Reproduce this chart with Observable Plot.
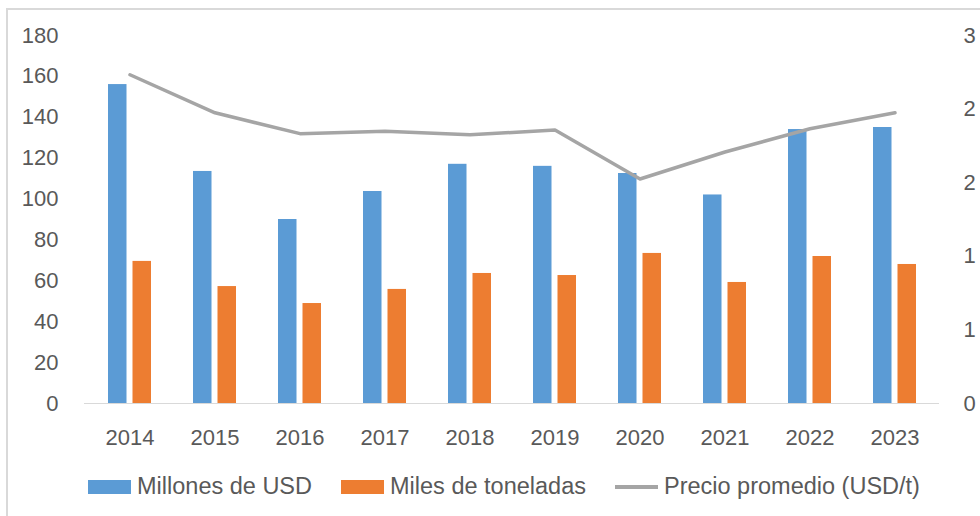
<!DOCTYPE html>
<html><head><meta charset="utf-8">
<script src="https://cdn.jsdelivr.net/npm/d3@7"></script>
<script src="https://cdn.jsdelivr.net/npm/@observablehq/plot@0.6"></script>
<style>
body{margin:0;background:#fff;width:980px;height:516px;overflow:hidden;position:relative;font-family:"Liberation Sans",Arial,sans-serif;}
#chart{position:absolute;left:0;top:0;}
#frame{position:absolute;left:6px;top:8px;right:-10px;bottom:-10px;border-left:2px solid #d9d9d9;border-top:2px solid #d9d9d9;pointer-events:none;}
#legend{position:absolute;left:88px;top:473px;display:flex;align-items:center;gap:29px;font-size:23.5px;color:#595959;white-space:nowrap}
.item{display:flex;align-items:center;gap:6px}
.sw{width:43px;height:14px}
.ln{width:43px;height:4px}
</style></head><body>
<div id="chart"></div><div id="legend"></div><div id="frame"></div>
<script>
const years = ["2014","2015","2016","2017","2018","2019","2020","2021","2022","2023"];
const millonesUSD = [156, 113.5, 90, 103.7, 117, 116, 112.5, 102, 134, 135];
const milesToneladas = [69.5, 57.2, 48.9, 55.8, 63.6, 62.6, 73.4, 59.2, 71.9, 68];
const precioPromedio = [2.68, 2.37, 2.20, 2.22, 2.19, 2.23, 1.83, 2.05, 2.24, 2.37];
const leftTicks = [0, 20, 40, 60, 80, 100, 120, 140, 160, 180];
const rightTicks = [0, 0.6, 1.2, 1.8, 2.4, 3];
const seriesNames = ["Millones de USD", "Miles de toneladas", "Precio promedio (USD/t)"];
const colors = ["#5B9BD5", "#ED7D31", "#A5A5A5"];

const leftMax = 180, rightMax = 3;
const k = leftMax / rightMax;
const rows = years.map((year, i) => ({year, usd: millonesUSD[i], ton: milesToneladas[i], precio: precioPromedio[i]}));
const fmt = d3.format(".0f");

const chart = Plot.plot({
  width: 980,
  height: 462,
  marginTop: 35,
  marginBottom: 59,
  marginLeft: 84,
  marginRight: 41,
  style: {fontFamily: '"Liberation Sans", Arial, sans-serif', fontSize: "22px", color: "#595959", background: "transparent"},
  x: {type: "band", domain: years, padding: 0},
  y: {domain: [0, leftMax]},
  marks: [
    Plot.ruleY([0], {stroke: "#d9d9d9", strokeWidth: 1}),
    Plot.barY(rows, {x: "year", y: "usd", fill: colors[0], insetLeft: 21, insetRight: 45.5}),
    Plot.barY(rows, {x: "year", y: "ton", fill: colors[1], insetLeft: 45.5, insetRight: 21}),
    Plot.line(rows, {x: "year", y: d => d.precio * k, stroke: colors[2], strokeWidth: 3.5, strokeLinecap: "round", strokeLinejoin: "round"}),
    Plot.axisX({tickSize: 0, tickPadding: 26, label: null, fontSize: 22}),
    Plot.axisY(leftTicks, {anchor: "left", tickSize: 0, tickPadding: 26, label: null, fontSize: 22}),
    Plot.axisY(rightTicks.map(t => t * k), {anchor: "right", tickSize: 0, tickPadding: 24, label: null, fontSize: 22, textAnchor: "start", tickFormat: d => fmt(d / k)})
  ]
});
document.getElementById("chart").append(chart);

const legend = document.getElementById("legend");
seriesNames.forEach((name, i) => {
  const item = document.createElement("div");
  item.className = "item";
  const sw = document.createElement("div");
  sw.className = i < 2 ? "sw" : "ln";
  sw.style.background = colors[i];
  const t = document.createElement("span");
  t.textContent = name;
  item.append(sw, t);
  legend.append(item);
});
</script>
</body></html>
